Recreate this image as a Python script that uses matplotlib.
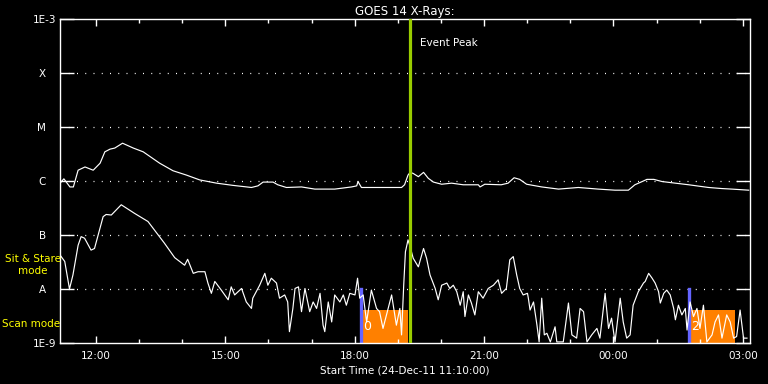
import matplotlib
matplotlib.use('Agg')
import matplotlib.pyplot as plt
import matplotlib.dates as mdates
from matplotlib.patches import Rectangle
import numpy as np
import pandas as pd

################ styling #################
plt.rc('font', family='DejaVu Sans')
plt.rc('font', size=7.5)

##############################################
# data: hours since start, log10 flux [W/m^2]
##############################################
start = pd.Timestamp('2011-12-24 11:10:00')
span_h = 16.0

long_t = [0.00, 0.09, 0.23, 0.31, 0.42, 0.58, 0.77, 0.93, 1.04, 1.16, 1.27, 1.45, 1.70, 1.93,
          2.31, 2.62, 2.93, 3.24, 3.63, 4.00, 4.44, 4.59, 4.71, 4.94, 5.05, 5.25, 5.60, 5.91,
          6.37, 6.76, 6.88, 6.91, 6.99, 7.38, 7.92, 7.99, 8.07, 8.12, 8.19, 8.31, 8.43, 8.54,
          8.66, 8.85, 9.08, 9.35, 9.70, 9.74, 9.85, 10.23, 10.39, 10.53, 10.66, 10.82, 11.17,
          11.56, 12.02, 12.48, 12.87, 13.18, 13.33, 13.50, 13.61, 13.77, 13.96, 14.27, 14.58,
          15.04, 15.35, 15.58, 15.97]
long_f = [-6.04, -5.96, -6.11, -6.11, -5.80, -5.74, -5.80, -5.67, -5.46, -5.41, -5.39, -5.30,
          -5.39, -5.46, -5.67, -5.81, -5.89, -5.98, -6.04, -6.08, -6.12, -6.09, -6.02, -6.02,
          -6.07, -6.12, -6.11, -6.15, -6.15, -6.11, -6.09, -6.01, -6.12, -6.12, -6.12, -6.07,
          -5.89, -5.84, -5.86, -5.92, -5.84, -5.95, -6.02, -6.06, -6.04, -6.07, -6.07, -6.11,
          -6.06, -6.07, -6.04, -5.94, -5.97, -6.06, -6.11, -6.15, -6.12, -6.15, -6.17, -6.17,
          -6.07, -6.01, -5.97, -5.97, -6.01, -6.04, -6.07, -6.12, -6.14, -6.15, -6.17]

short_t = [0.00, 0.11, 0.19, 0.22, 0.30, 0.42, 0.49, 0.57, 0.72, 0.80, 1.00, 1.07, 1.19, 1.42,
           1.73, 2.04, 2.42, 2.66, 2.89, 2.96, 3.09, 3.20, 3.36, 3.43, 3.51, 3.59, 3.74, 3.90,
           3.97, 4.05, 4.21, 4.32, 4.44, 4.47, 4.63, 4.75, 4.82, 4.90, 5.02, 5.09, 5.21, 5.28,
           5.32, 5.40, 5.45, 5.53, 5.60, 5.68, 5.79, 5.87, 5.95, 6.03, 6.10, 6.14, 6.22, 6.30,
           6.37, 6.49, 6.57, 6.64, 6.72, 6.84, 6.90, 6.95, 7.03, 7.11, 7.22, 7.34, 7.41, 7.49,
           7.57, 7.69, 7.80, 7.88, 7.92, 7.97, 8.01, 8.07, 8.12, 8.19, 8.31, 8.43, 8.50, 8.58,
           8.70, 8.77, 8.85, 8.97, 9.04, 9.12, 9.20, 9.28, 9.35, 9.39, 9.47, 9.54, 9.62, 9.70,
           9.81, 9.93, 10.05, 10.16, 10.24, 10.35, 10.43, 10.51, 10.59, 10.66, 10.74, 10.84,
           10.86, 10.90, 10.98, 11.06, 11.11, 11.17, 11.23, 11.29, 11.37, 11.48, 11.52, 11.67,
           11.79, 11.87, 11.98, 12.06, 12.14, 12.22, 12.33, 12.45, 12.52, 12.64, 12.72, 12.79,
           12.87, 12.99, 13.06, 13.14, 13.22, 13.29, 13.41, 13.53, 13.57, 13.65, 13.73, 13.80,
           13.88, 13.92, 14.00, 14.07, 14.15, 14.23, 14.27, 14.34, 14.42, 14.50, 14.54, 14.61,
           14.69, 14.77, 14.84, 14.92, 15.00, 15.12, 15.19, 15.27, 15.35, 15.46, 15.54, 15.62,
           15.69, 15.77, 15.85, 15.93]
short_f = [-7.37, -7.49, -7.86, -8.00, -7.74, -7.19, -7.03, -7.06, -7.28, -7.25, -6.66, -6.62,
           -6.63, -6.44, -6.60, -6.75, -7.15, -7.42, -7.56, -7.45, -7.71, -7.68, -7.68, -7.89,
           -8.08, -7.86, -8.02, -8.20, -7.96, -8.11, -7.99, -8.24, -8.36, -8.17, -7.93, -7.71,
           -7.93, -7.80, -7.89, -8.17, -8.11, -8.24, -8.79, -8.36, -7.99, -7.96, -8.42, -7.99,
           -8.42, -8.24, -8.36, -8.08, -8.67, -8.79, -8.24, -8.61, -8.11, -8.24, -8.11, -8.30,
           -8.08, -8.11, -7.80, -8.17, -8.11, -8.61, -8.02, -8.36, -8.42, -8.73, -8.48, -8.11,
           -8.67, -8.36, -8.85, -7.93, -7.31, -7.09, -7.22, -7.43, -7.59, -7.25, -7.43, -7.74,
           -7.99, -8.20, -7.93, -7.89, -7.99, -7.93, -8.05, -8.30, -8.05, -8.51, -8.11, -8.26,
           -8.48, -8.05, -8.17, -7.99, -7.93, -7.83, -8.08, -7.99, -7.46, -7.40, -7.74, -7.99,
           -8.11, -8.08, -8.17, -8.39, -8.24, -8.67, -8.98, -8.17, -8.85, -8.82, -8.98, -8.70,
           -8.98, -8.98, -8.26, -8.85, -8.91, -8.36, -8.42, -8.98, -8.85, -8.73, -8.91, -8.08,
           -8.73, -8.54, -8.98, -8.17, -8.61, -8.91, -8.85, -8.30, -8.05, -7.89, -7.86, -7.71,
           -7.80, -7.89, -8.05, -8.26, -8.08, -8.02, -8.11, -8.36, -8.57, -8.30, -8.48, -8.36,
           -8.76, -8.24, -8.51, -8.36, -8.73, -8.30, -8.98, -8.85, -8.61, -8.48, -8.91, -8.48,
           -8.61, -8.91, -8.88, -8.39, -8.91, -8.91]

# scans: (blue marker hour, orange start, orange end, label)
scan_mark = [6.99, 14.58]
scan_start = [7.01, 14.61]
scan_end = [8.06, 15.65]
scan_label = ['0', '2']
scan_top = -8.39          # log10 flux of top of orange boxes
peak_h = 8.12

class_vals = [1e-9, 1e-8, 1e-7, 1e-6, 1e-5, 1e-4, 1e-3]
class_lbls = ['1E-9', 'A   ', 'B   ', 'C   ', 'M   ', 'X   ', '1E-3']


def to_time(h):
    return start + pd.to_timedelta(np.asarray(h, dtype=float), unit='h')


##############################################
fig = plt.figure(figsize=(7.68, 3.84), dpi=100, facecolor='black')
ax = fig.add_axes([60/768, 1-343/384, 690/768, 324/384], facecolor='black')

ax.set_yscale('log')
ax.set_ylim(1e-9, 1e-3)
ax.set_xlim(to_time(0), to_time(span_h))

# class grid lines
for v in class_vals[1:-1]:
    ax.axhline(v, color='white', linewidth=0.9, linestyle=(0, (0.8, 5.8)), zorder=1)

# scan boxes
for m, s0, s1, lab in zip(scan_mark, scan_start, scan_end, scan_label):
    x0 = mdates.date2num(to_time(s0))
    x1 = mdates.date2num(to_time(s1))
    ax.add_patch(Rectangle((x0, 1e-9), x1 - x0, 10**scan_top - 1e-9,
                           facecolor='#ff8000', edgecolor='none', zorder=1.5))
    ax.axvline(to_time(m), ymin=0, ymax=1/6, color='#6464ff', linewidth=2.4, zorder=1.6)
    ax.text(to_time(s0 + 0.03), 2.0e-9, lab, color='white', fontsize=9,
            va='center', ha='left', zorder=5)

ax.plot(to_time(long_t), 10**np.array(long_f), color='white', linewidth=0.85, zorder=3)
ax.plot(to_time(short_t), 10**np.array(short_f), color='white', linewidth=0.85, zorder=3)

ax.axvline(to_time(peak_h), color='#99cc00', linewidth=2.3, zorder=4)
ax.text(to_time(peak_h + 0.23), 10**-3.45, 'Event Peak', color='white', fontsize=7.5,
        va='center', ha='left')

# axes styling
for sp in ax.spines.values():
    sp.set_color('white')
    sp.set_linewidth(1.0)

ax.set_yticks(class_vals)
ax.set_yticklabels(class_lbls)
ax.yaxis.set_minor_locator(matplotlib.ticker.NullLocator())
ax.tick_params(axis='y', which='major', direction='in', length=10, width=1.0,
               colors='white', left=True, right=True, pad=3)

ax.xaxis.set_major_locator(mdates.HourLocator(byhour=range(0, 24, 3)))
ax.xaxis.set_minor_locator(mdates.HourLocator())
ax.xaxis.set_major_formatter(mdates.DateFormatter('%H:%M'))
ax.tick_params(axis='x', which='major', direction='in', length=5, width=1.0,
               colors='white', top=True, bottom=True, pad=6)
ax.tick_params(axis='x', which='minor', direction='in', length=3, width=1.0,
               colors='white', top=True, bottom=True)

ax.set_title('GOES 14 X-Rays:', color='white', fontsize=8.5, pad=3)
ax.set_xlabel('Start Time (24-Dec-11 11:10:00)', color='white', labelpad=3)

fig.text(33/768, 1-259/384, 'Sit & Stare', color='#ffff00', ha='center', va='center')
fig.text(33/768, 1-271/384, 'mode', color='#ffff00', ha='center', va='center')
fig.text(2/768, 1-324/384, 'Scan mode', color='#ffff00', ha='left', va='center')

fig.savefig('out.png', dpi=100, facecolor='black')
